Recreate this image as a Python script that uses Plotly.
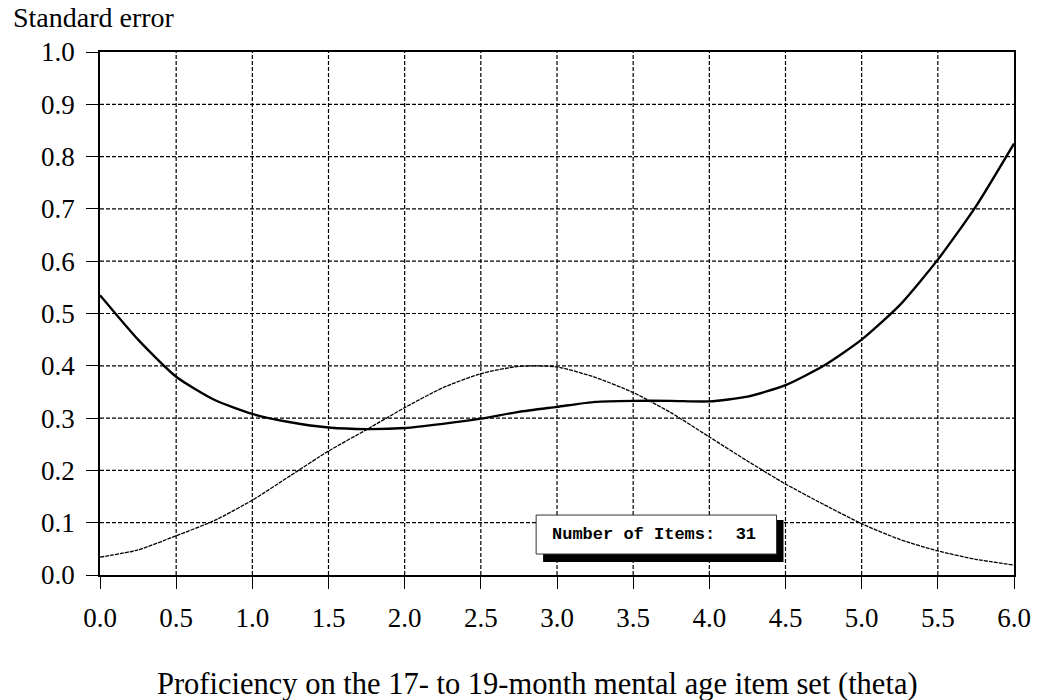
import plotly.graph_objects as go

# Proficiency grid (theta)
theta = [0.0, 0.25, 0.5, 0.75, 1.0, 1.25, 1.5, 1.75, 2.0, 2.25, 2.5, 2.75, 3.0,
         3.25, 3.5, 3.75, 4.0, 4.25, 4.5, 4.75, 5.0, 5.25, 5.5, 5.75, 6.0]

# Standard error of measurement (solid curve)
std_error = [0.535, 0.450, 0.379, 0.335, 0.308, 0.292, 0.282, 0.279, 0.281, 0.289,
             0.299, 0.312, 0.3215, 0.331, 0.333, 0.333, 0.332, 0.341, 0.363, 0.400,
             0.450, 0.516, 0.603, 0.705, 0.825]

# Population distribution curve (thin dashed curve)
population = [0.034, 0.048, 0.075, 0.104, 0.143, 0.190, 0.237, 0.278, 0.320, 0.358,
              0.385, 0.399, 0.398, 0.378, 0.349, 0.310, 0.264, 0.218, 0.174, 0.135,
              0.098, 0.068, 0.046, 0.030, 0.019]

x_ticks = [0.0, 0.5, 1.0, 1.5, 2.0, 2.5, 3.0, 3.5, 4.0, 4.5, 5.0, 5.5, 6.0]
x_tick_labels = ["0.0", "0.5", "1.0", "1.5", "2.0", "2.5", "3.0", "3.5", "4.0",
                 "4.5", "5.0", "5.5", "6.0"]
y_ticks = [0.0, 0.1, 0.2, 0.3, 0.4, 0.5, 0.6, 0.7, 0.8, 0.9, 1.0]
y_tick_labels = ["0.0", "0.1", "0.2", "0.3", "0.4", "0.5", "0.6", "0.7", "0.8",
                 "0.9", "1.0"]

n_items = 31

SERIF = "Liberation Serif, Times New Roman, serif"
MONO = "Courier New, Liberation Mono, monospace"

fig = go.Figure()

fig.add_trace(go.Scatter(
    x=theta, y=population, mode="lines",
    line=dict(color="black", width=1.3, dash="4px,1px", shape="spline", smoothing=0.6),
    hoverinfo="skip", showlegend=False,
))
fig.add_trace(go.Scatter(
    x=theta, y=std_error, mode="lines",
    line=dict(color="black", width=2.4, shape="spline", smoothing=0.6),
    hoverinfo="skip", showlegend=False,
))

# Dashed grid drawn as shapes so the frame stays solid
grid_dash = "4px,2px"
for xv in x_ticks[1:-1]:
    fig.add_shape(type="line", xref="x", yref="y", x0=xv, x1=xv, y0=0, y1=1,
                  line=dict(color="black", width=1.2, dash=grid_dash), layer="below")
for yv in y_ticks[1:-1]:
    fig.add_shape(type="line", xref="x", yref="y", x0=0, x1=6, y0=yv, y1=yv,
                  line=dict(color="black", width=1.2, dash=grid_dash), layer="below")

# Label box with drop shadow
fig.add_shape(type="rect", xref="paper", yref="paper",
              x0=(546 - 100) / 920, x1=(788 - 100) / 920,
              y0=(575 - 562) / 523.5, y1=(575 - 520) / 523.5,
              fillcolor="black", line=dict(width=0), layer="above")
fig.add_shape(type="rect", xref="paper", yref="paper",
              x0=(539 - 100) / 920, x1=(781 - 100) / 920,
              y0=(575 - 554) / 523.5, y1=(575 - 515) / 523.5,
              fillcolor="white", line=dict(color="#333", width=1), layer="above")
fig.add_annotation(
    xref="paper", yref="paper",
    x=(658 - 100) / 920, y=(575 - 534.5) / 523.5,
    text=f"<b>Number of Items:  {n_items}</b>", showarrow=False,
    font=dict(family=MONO, size=17, color="black"),
    xanchor="center", yanchor="middle",
)

# Axis titles
fig.add_annotation(
    xref="paper", yref="paper", x=-90 / 920, y=1 + 34.5 / 523.5,
    text="Standard error", showarrow=False,
    font=dict(family=SERIF, size=28, color="black"),
    xanchor="left", yanchor="middle",
)
fig.add_annotation(
    xref="paper", yref="paper", x=(540 - 100) / 920, y=-(684 - 575) / 523.5,
    text="Proficiency on the 17- to 19-month mental age item set (theta)",
    showarrow=False,
    font=dict(family=SERIF, size=30.5, color="black"),
    xanchor="center", yanchor="middle",
)

fig.update_layout(
    width=1043, height=700,
    margin=dict(l=100, r=23, t=51.5, b=125, pad=0),
    paper_bgcolor="white", plot_bgcolor="white",
    font=dict(family=SERIF, size=27, color="black"),
    showlegend=False,
)
fig.update_xaxes(
    range=[0, 6], tickvals=x_ticks, ticktext=x_tick_labels,
    showgrid=False, zeroline=False,
    showline=True, linecolor="black", linewidth=1.5, mirror=True,
    ticks="outside", ticklen=12, tickcolor="black", tickwidth=1,
    ticklabelstandoff=6,
    tickfont=dict(family=SERIF, size=27, color="black"),
)
fig.update_yaxes(
    range=[0, 1], tickvals=y_ticks, ticktext=y_tick_labels,
    showgrid=False, zeroline=False,
    showline=True, linecolor="black", linewidth=1.5, mirror=True,
    ticks="outside", ticklen=12, tickcolor="black", tickwidth=1,
    ticklabelstandoff=6,
    tickfont=dict(family=SERIF, size=27, color="black"),
)

fig.write_html("out.html")
